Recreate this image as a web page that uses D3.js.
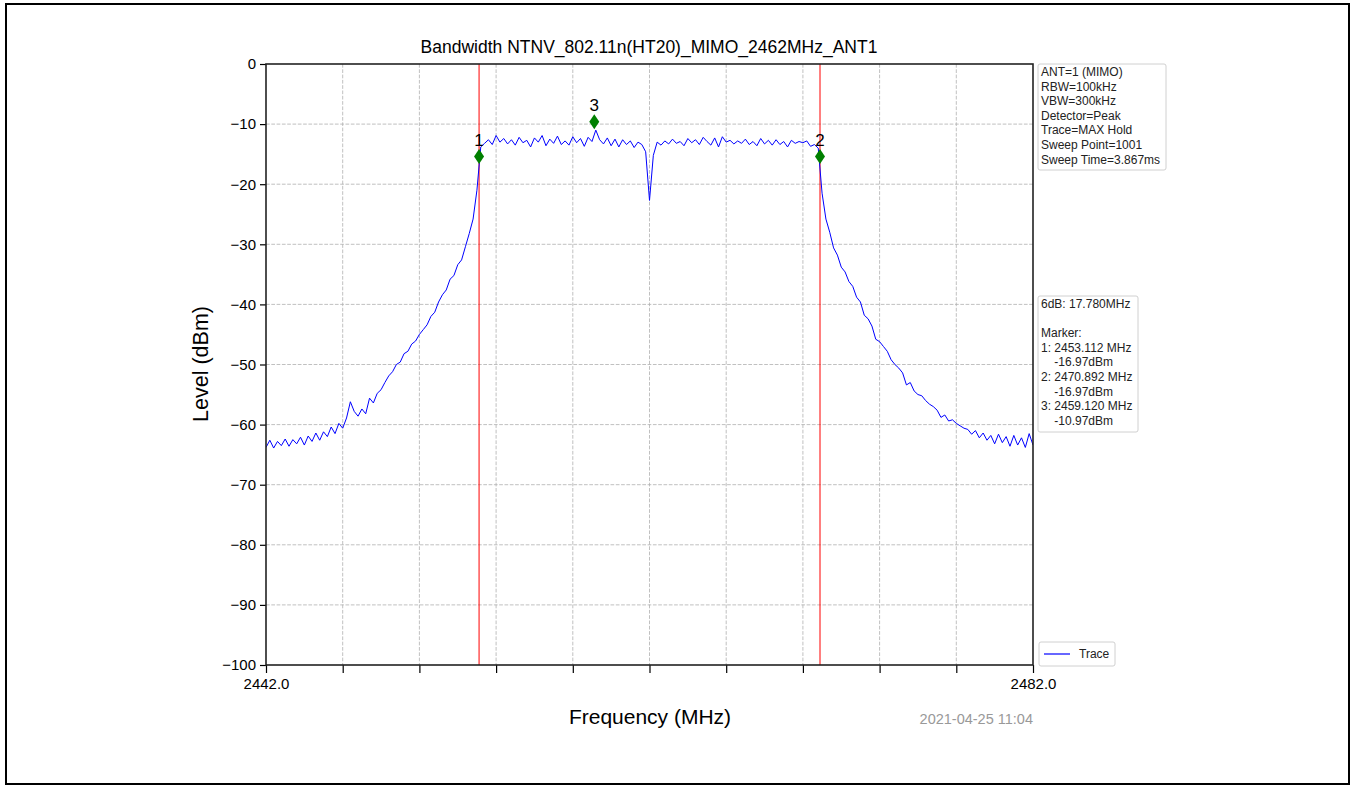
<!DOCTYPE html>
<html>
<head>
<meta charset="utf-8">
<script src="https://cdn.jsdelivr.net/npm/d3@7"></script>
<style>
  html, body { margin: 0; padding: 0; background: #fff; }
  svg { display: block; font-family: "Liberation Sans", Arial, Helvetica, sans-serif; }
</style>
</head>
<body>
<svg id="chart" width="1354" height="785"></svg>
<script>
// ---------------- data ----------------
const chartTitle = "Bandwidth NTNV_802.11n(HT20)_MIMO_2462MHz_ANT1";
const xLabel = "Frequency (MHz)";
const yLabel = "Level (dBm)";
const timestamp = "2021-04-25 11:04";

const freqStart = 2442.0;
const freqStop = 2482.0;
const freqStep = 0.2;   // sweep grid of the estimated trace
const yTicks = [0, -10, -20, -30, -40, -50, -60, -70, -80, -90, -100];
const xTicks = [2442, 2446, 2450, 2454, 2458, 2462, 2466, 2470, 2474, 2478, 2482];
const xTickLabels = ["2442.0", "", "", "", "", "", "", "", "", "", "2482.0"];

// trace levels (dBm), one every 0.2 MHz from 2442.0 to 2482.0
const traceLevel = [
  -63.8,-62.6,-63.9,-62.8,-63.5,-62.4,-63.6,-62.5,-63.2,-62.1, // 2442.0
  -63.4,-61.9,-62.8,-61.4,-62.6,-61.2,-62.0,-60.4,-61.5,-59.8, // 2444.0
  -60.6,-58.9,-56.2,-57.8,-58.6,-57.4,-58.2,-55.6,-56.4,-54.8, // 2446.0
  -54.2,-53.0,-51.9,-51.2,-50.0,-49.6,-48.2,-47.8,-46.6,-46.1, // 2448.0
  -45.0,-44.2,-43.4,-42.0,-41.3,-39.6,-38.4,-37.6,-35.8,-35.2, // 2450.0
  -33.4,-32.6,-30.4,-28.2,-25.8,-21.0,-13.8,-13.2,-12.6,-13.4, // 2452.0
  -11.9,-13.0,-12.4,-13.3,-12.6,-13.5,-12.2,-13.1,-12.7,-13.8, // 2454.0
  -12.3,-13.0,-11.9,-13.6,-12.5,-13.2,-12.0,-13.4,-12.8,-13.5, // 2456.0
  -12.1,-13.1,-12.4,-13.7,-12.2,-12.9,-11.0,-12.6,-13.3,-12.3, // 2458.0
  -13.6,-12.5,-13.8,-12.6,-13.4,-12.8,-13.9,-13.0,-13.4,-14.6, // 2460.0
  -22.7,-15.2,-13.0,-13.5,-12.8,-13.3,-12.5,-13.2,-12.9,-13.6, // 2462.0
  -12.4,-13.1,-12.6,-13.4,-12.2,-12.9,-13.5,-12.3,-13.8,-12.1, // 2464.0
  -13.0,-12.7,-13.3,-12.8,-13.2,-12.5,-13.4,-12.9,-13.6,-12.4, // 2466.0
  -13.3,-12.7,-13.5,-12.6,-13.4,-12.9,-13.8,-12.7,-13.2,-12.9, // 2468.0
  -13.1,-12.8,-13.7,-13.4,-14.0,-21.5,-25.8,-28.0,-30.6,-31.8, // 2470.0
  -33.8,-34.6,-36.2,-37.0,-38.8,-39.6,-41.8,-42.4,-43.6,-45.8, // 2472.0
  -46.2,-47.0,-47.8,-49.2,-50.0,-50.6,-51.4,-53.4,-53.0,-54.4, // 2474.0
  -55.0,-55.2,-56.0,-56.6,-57.0,-57.6,-58.8,-58.4,-59.4,-59.2, // 2476.0
  -59.8,-60.2,-60.6,-60.8,-61.6,-61.0,-62.2,-61.4,-62.6,-61.8, // 2478.0
  -63.2,-61.6,-63.0,-62.0,-63.6,-61.8,-63.4,-62.2,-63.8,-61.5, // 2480.0
  -63.4                                                         // 2482.0
];

// markers as drawn
const markerIds = ["1", "2", "3"];
const markerFreq = [2453.112, 2470.892, 2459.120];
const markerLevel = [-15.4, -15.4, -9.6];
// red bandwidth lines
const bwLineFreq = [2453.112, 2470.892];

const infoLines = ["ANT=1 (MIMO)", "RBW=100kHz", "VBW=300kHz", "Detector=Peak",
                   "Trace=MAX Hold", "Sweep Point=1001", "Sweep Time=3.867ms"];
const resultLines = ["6dB: 17.780MHz", "", "Marker:", "1: 2453.112 MHz", "    -16.97dBm",
                     "2: 2470.892 MHz", "    -16.97dBm", "3: 2459.120 MHz", "    -10.97dBm"];
const legendLabels = ["Trace"];

// ---------------- layout ----------------
const svg = d3.select("#chart");
const plot = { left: 266, top: 64, right: 1033, bottom: 665 };

svg.append("rect").attr("x", 6).attr("y", 4).attr("width", 1343).attr("height", 780)
  .attr("fill", "#fff").attr("stroke", "#000").attr("stroke-width", 2);

const x = d3.scaleLinear().domain([freqStart, freqStop]).range([plot.left, plot.right]);
const y = d3.scaleLinear().domain([-100, 0]).range([plot.bottom, plot.top]);

const traceFreq = d3.range(traceLevel.length).map(i => freqStart + i * freqStep);
const trace = traceFreq.map((f, i) => [f, traceLevel[i]]);

// grid
const grid = svg.append("g");
grid.selectAll(".gx").data(xTicks.slice(1, -1)).join("line")
  .attr("x1", d => x(d)).attr("x2", d => x(d))
  .attr("y1", plot.top).attr("y2", plot.bottom)
  .attr("stroke", "#b0b0b0").attr("stroke-width", 0.8).attr("stroke-dasharray", "3.7,1.6");
grid.selectAll(".gy").data(yTicks.slice(1, -1)).join("line")
  .attr("y1", d => y(d)).attr("y2", d => y(d))
  .attr("x1", plot.left).attr("x2", plot.right)
  .attr("stroke", "#b0b0b0").attr("stroke-width", 0.8).attr("stroke-dasharray", "3.7,1.6");

// red lines
svg.append("g").selectAll("line").data(bwLineFreq).join("line")
  .attr("x1", d => x(d)).attr("x2", d => x(d))
  .attr("y1", plot.top).attr("y2", plot.bottom)
  .attr("stroke", "#ff0000").attr("stroke-width", 1);

// trace
const clipId = "plotclip";
svg.append("clipPath").attr("id", clipId).append("rect")
  .attr("x", plot.left).attr("y", plot.top)
  .attr("width", plot.right - plot.left).attr("height", plot.bottom - plot.top);
svg.append("path").datum(trace)
  .attr("clip-path", `url(#${clipId})`)
  .attr("fill", "none").attr("stroke", "#0000ff").attr("stroke-width", 1)
  .attr("stroke-linejoin", "round")
  .attr("d", d3.line().x(d => x(d[0])).y(d => y(d[1])));

// markers
const markers = markerIds.map((id, i) => ({ id, f: markerFreq[i], v: markerLevel[i] }));
svg.append("g").selectAll("path").data(markers).join("path")
  .attr("transform", d => `translate(${x(d.f)},${y(d.v)})`)
  .attr("d", "M0,-7.5L5,0L0,7.5L-5,0Z")
  .attr("fill", "#008000");
svg.append("g").selectAll("text").data(markers).join("text")
  .attr("x", d => x(d.f)).attr("y", d => y(d.v) - 11)
  .attr("text-anchor", "middle").attr("font-size", 17).attr("fill", "#000")
  .text(d => d.id);

// axes
const yAxis = d3.axisLeft(y).tickValues(yTicks).tickSize(6).tickPadding(4)
  .tickFormat(d => d3.format("d")(d).replace("-", "\u2212"));
const gy = svg.append("g").attr("transform", `translate(${plot.left},0)`).call(yAxis);
gy.select(".domain").remove();
gy.selectAll("line").attr("stroke", "#000").attr("stroke-width", 1.2);
gy.selectAll("text").attr("font-size", 15).attr("fill", "#000")
  .attr("font-family", "'Liberation Sans', Arial, sans-serif");

const xAxis = d3.axisBottom(x).tickValues(xTicks).tickSize(8).tickPadding(5)
  .tickFormat((d, i) => xTickLabels[i]);
const gx = svg.append("g").attr("transform", `translate(0,${plot.bottom})`).call(xAxis);
gx.select(".domain").remove();
gx.selectAll("line").attr("stroke", "#000").attr("stroke-width", 1.2);
gx.selectAll("text").attr("font-size", 15).attr("fill", "#000")
  .attr("font-family", "'Liberation Sans', Arial, sans-serif");

// frame
svg.append("rect").attr("x", plot.left).attr("y", plot.top)
  .attr("width", plot.right - plot.left).attr("height", plot.bottom - plot.top)
  .attr("fill", "none").attr("stroke", "#222").attr("stroke-width", 1.6);

// title and labels
svg.append("text").attr("x", 649).attr("y", 53)
  .attr("text-anchor", "middle").attr("font-size", 17.5).attr("fill", "#000").text(chartTitle);
svg.append("text").attr("x", 650).attr("y", 724)
  .attr("text-anchor", "middle").attr("font-size", 21).attr("fill", "#000").text(xLabel);
svg.append("text").attr("transform", `translate(208,364) rotate(-90)`)
  .attr("text-anchor", "middle").attr("font-size", 21.5).attr("fill", "#000").text(yLabel);
svg.append("text").attr("x", plot.right).attr("y", 724)
  .attr("text-anchor", "end").attr("font-size", 14.5).attr("fill", "#999").text(timestamp);

// info boxes
function textBox(lines, bx, by, bw, bh, lineH) {
  const g = svg.append("g");
  g.append("rect").attr("x", bx).attr("y", by).attr("width", bw).attr("height", bh)
    .attr("rx", 2).attr("fill", "#fff").attr("stroke", "#d0d0d0").attr("stroke-width", 1);
  g.selectAll("text").data(lines).join("text")
    .attr("x", bx + 3).attr("y", (d, i) => by + 12 + i * lineH)
    .attr("font-size", 12).attr("fill", "#222").attr("xml:space", "preserve")
    .style("white-space", "pre")
    .text(d => d);
}
textBox(infoLines, 1038, 64, 128, 106, 14.6);
textBox(resultLines, 1038, 296, 100, 136, 14.6);

// legend
const lg = svg.append("g");
lg.append("rect").attr("x", 1039).attr("y", 642).attr("width", 76).attr("height", 24)
  .attr("rx", 2).attr("fill", "#fff").attr("stroke", "#d0d0d0");
lg.append("line").attr("x1", 1044).attr("x2", 1070).attr("y1", 654).attr("y2", 654)
  .attr("stroke", "#0000ff").attr("stroke-width", 1.2);
lg.append("text").attr("x", 1079).attr("y", 658).attr("font-size", 12).attr("fill", "#222")
  .text(legendLabels[0]);
</script>
</body>
</html>
